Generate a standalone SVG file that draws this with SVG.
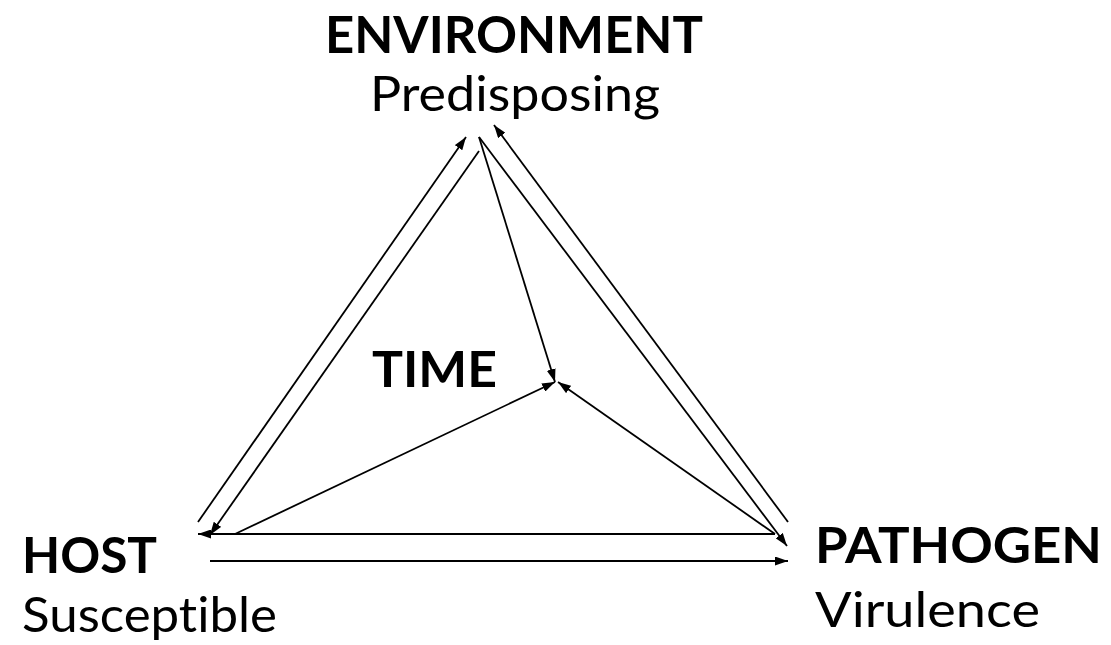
<svg xmlns="http://www.w3.org/2000/svg" width="1111" height="645" viewBox="0 0 1111 645">
<defs>
<marker id="ah" viewBox="0 0 13 9" refX="13" refY="4.5" markerWidth="13" markerHeight="9" markerUnits="userSpaceOnUse" orient="auto">
<path d="M0,0 L13,4.5 L0,9 Z" fill="#000"/>
</marker>
<style>
.t{font-family:Lato,"Open Sans",sans-serif;font-size:49px;fill:#000;font-variant-ligatures:none;font-feature-settings:"liga" 0,"clig" 0,"dlig" 0;}
.b{font-weight:bold;}
.c{stroke:#000;stroke-width:1.8;fill:none;marker-end:url(#ah);}
</style>
</defs>
<rect width="1111" height="645" fill="#fff"/>
<g id="environment">
<text class="t b" x="325" y="53" textLength="378" lengthAdjust="spacingAndGlyphs" style="font-size:52px">ENVIRONMENT</text>
<text class="t" x="370" y="111" textLength="290" lengthAdjust="spacingAndGlyphs">Predisposing</text>
</g>
<g id="time">
<text class="t b" x="372" y="387" textLength="125" lengthAdjust="spacingAndGlyphs">TIME</text>
</g>
<g id="host">
<text class="t b" x="22" y="573" textLength="135" lengthAdjust="spacingAndGlyphs">HOST</text>
<text class="t" x="22" y="632" textLength="255" lengthAdjust="spacingAndGlyphs">Susceptible</text>
</g>
<g id="pathogen">
<text class="t b" x="815" y="563" textLength="287" lengthAdjust="spacingAndGlyphs">PATHOGEN</text>
<text class="t" x="815" y="627" textLength="225" lengthAdjust="spacingAndGlyphs">Virulence</text>
</g>
<g id="connectors">
<line class="c" x1="198" y1="522" x2="466" y2="137"/>
<line class="c" x1="479" y1="151" x2="210" y2="535"/>
<line class="c" x1="479" y1="137" x2="555" y2="382"/>
<line class="c" x1="479" y1="137" x2="787" y2="546"/>
<line class="c" x1="788" y1="522" x2="494" y2="125"/>
<line class="c" x1="775" y1="534" x2="198" y2="534"/>
<line class="c" x1="210" y1="561" x2="788" y2="561"/>
<line class="c" x1="235" y1="534" x2="555" y2="382"/>
<line class="c" x1="775" y1="534" x2="558" y2="382"/>
</g>
</svg>
